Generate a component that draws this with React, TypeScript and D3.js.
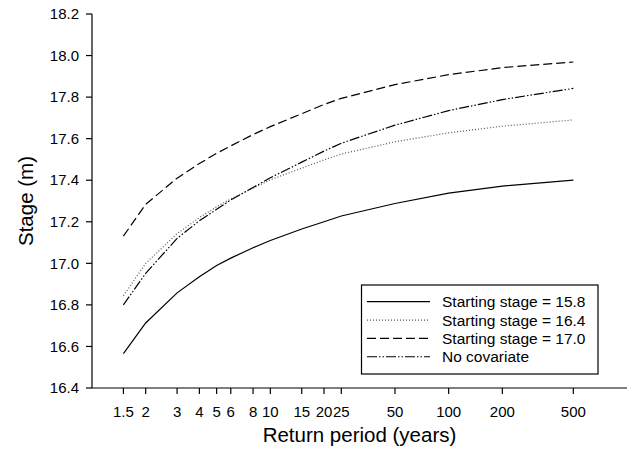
import React from "react";
import * as d3 from "d3";

const returnPeriods = [1.5, 2, 3, 4, 5, 6, 8, 10, 15, 20, 25, 50, 100, 200, 500];
const stage158 = [16.565, 16.713, 16.858, 16.935, 16.99, 17.025, 17.075, 17.11, 17.165, 17.2, 17.228, 17.288, 17.338, 17.372, 17.4];
const stage164 = [16.844, 17.0, 17.143, 17.22, 17.272, 17.31, 17.362, 17.402, 17.458, 17.498, 17.526, 17.585, 17.628, 17.66, 17.69];
const stage170 = [17.131, 17.284, 17.41, 17.48, 17.53, 17.565, 17.62, 17.658, 17.72, 17.765, 17.794, 17.86, 17.908, 17.942, 17.969];
const noCovariate = [16.8, 16.952, 17.12, 17.205, 17.26, 17.305, 17.365, 17.412, 17.487, 17.54, 17.578, 17.665, 17.735, 17.788, 17.842];

const xTicks = [1.5, 2, 3, 4, 5, 6, 8, 10, 15, 20, 25, 50, 100, 200, 500];
const yTicks = [16.4, 16.6, 16.8, 17.0, 17.2, 17.4, 17.6, 17.8, 18.0, 18.2];

const seriesNames = ["Starting stage = 15.8", "Starting stage = 16.4", "Starting stage = 17.0", "No covariate"];
const seriesValues = [stage158, stage164, stage170, noCovariate];
const seriesDash = ["none", "1,2", "9,4", "10,2,1.5,2,1.5,2"];
const seriesColor = ["#000", "#555", "#000", "#000"];

export default function App() {
  const W = 630, H = 451;
  const x = d3.scaleLog().domain([1, 1000]).range([92, 627]);
  const y = d3.scaleLinear().domain([16.4, 18.2]).range([388, 14]);
  const line = d3
    .line<number>()
    .x((_, i) => x(returnPeriods[i]))
    .y((d) => y(d));
  const font = "'Liberation Sans', Arial, Helvetica, sans-serif";
  const legX = 361.5, legY = 285, legW = 236.5, legH = 89;
  return (
    <svg width={W} height={H} style={{ position: "absolute", left: 0, top: 0, background: "#fff" }} fontFamily={font}>
      <rect x={0} y={0} width={W} height={H} fill="#fff" />
      {/* axes */}
      <line x1={x(1)} x2={x(1)} y1={y(18.2)} y2={y(16.4)} stroke="#000" strokeWidth={1.2} />
      <line x1={x(1)} x2={x(1000)} y1={y(16.4)} y2={y(16.4)} stroke="#000" strokeWidth={1.2} />
      {yTicks.map((t) => (
        <g key={"y" + t}>
          <line x1={x(1) - 6} x2={x(1)} y1={y(t)} y2={y(t)} stroke="#000" strokeWidth={1.2} />
          <text x={79} y={y(t)} dy="0.35em" textAnchor="end" fontSize={15} fill="#000">
            {t.toFixed(1)}
          </text>
        </g>
      ))}
      {xTicks.map((t) => (
        <g key={"x" + t}>
          <line x1={x(t)} x2={x(t)} y1={y(16.4)} y2={y(16.4) + 6} stroke="#000" strokeWidth={1.2} />
          <text x={x(t)} y={417} textAnchor="middle" fontSize={15} fill="#000">
            {String(t)}
          </text>
        </g>
      ))}
      <text x={(x(1) + x(1000)) / 2} y={442} textAnchor="middle" fontSize={20.5} fill="#000">
        Return period (years)
      </text>
      <text
        transform={`translate(33,${(y(16.4) + y(18.2)) / 2}) rotate(-90)`}
        textAnchor="middle"
        fontSize={20.5}
        fill="#000"
      >
        Stage (m)
      </text>
      {/* series */}
      {seriesValues.map((vals, i) => (
        <path
          key={"s" + i}
          d={line(vals) || ""}
          fill="none"
          stroke={seriesColor[i]}
          strokeWidth={1.2}
          strokeDasharray={seriesDash[i]}
        />
      ))}
      {/* legend */}
      <rect x={legX} y={legY} width={legW} height={legH} fill="#fff" stroke="#000" strokeWidth={1.2} />
      {seriesNames.map((name, i) => {
        const cy = 301.7 + i * 18.35;
        return (
          <g key={"l" + i}>
            <line x1={367} x2={430} y1={cy} y2={cy} stroke={seriesColor[i]} strokeWidth={1.2} strokeDasharray={seriesDash[i]} />
            <text x={442} y={cy} dy="0.36em" fontSize={15.5} fill="#000">
              {name}
            </text>
          </g>
        );
      })}
    </svg>
  );
}
